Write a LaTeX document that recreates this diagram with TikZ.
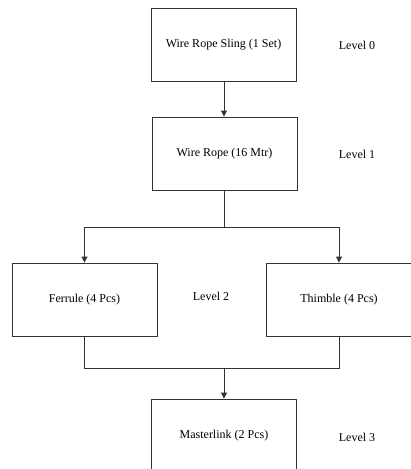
\documentclass[tikz,border=0pt]{standalone}
\usepackage{fontspec}
\setmainfont{Liberation Serif}
\usetikzlibrary{arrows.meta}
\begin{document}
\begin{tikzpicture}[x=1pt,y=-1pt,
  box/.style={draw=black!80,line width=0.9pt,minimum width=145pt,minimum height=73pt,inner sep=0pt,font=\fontsize{12}{14}\selectfont},
  lvl/.style={font=\fontsize{12}{14}\selectfont,inner sep=0pt},
  conn/.style={draw=black!80,line width=0.9pt},
  arr/.style={conn,-{Triangle[length=6pt,width=6pt]}}]
\useasboundingbox (0,0) rectangle (411,469);
\clip (0,0) rectangle (411,469);
\node[box] (b0) at (223.5,44.5) {Wire Rope Sling (1 Set)};
\node[box] (b1) at (224.5,153.5) {Wire Rope (16 Mtr)};
\node[box] (fe) at (84.5,299.5) {Ferrule (4 Pcs)};
\node[box] (th) at (339,299.5) {Thimble (4 Pcs)};
\node[box] (ml) at (224,435.5) {Masterlink (2 Pcs)};
\node[lvl] (l0) at (357,45) {Level 0};
\node[lvl] (l1) at (357,154) {Level 1};
\node[lvl] (l2) at (211,296) {Level 2};
\node[lvl] (l3) at (357,437) {Level 3};
\coordinate (j1) at (224,227);
\coordinate (j2) at (224,368);
\draw[arr] (b0.south -| j1) -- (b1.north -| j1);
\draw[conn] (b1.south -| j1) -- (j1);
\draw[arr] (j1) -| (fe.north);
\draw[arr] (j1) -| (th.north);
\draw[conn] (fe.south) |- (j2);
\draw[conn] (th.south) |- (j2);
\draw[arr] (j2) -- (ml.north -| j2);
\end{tikzpicture}
\end{document}
